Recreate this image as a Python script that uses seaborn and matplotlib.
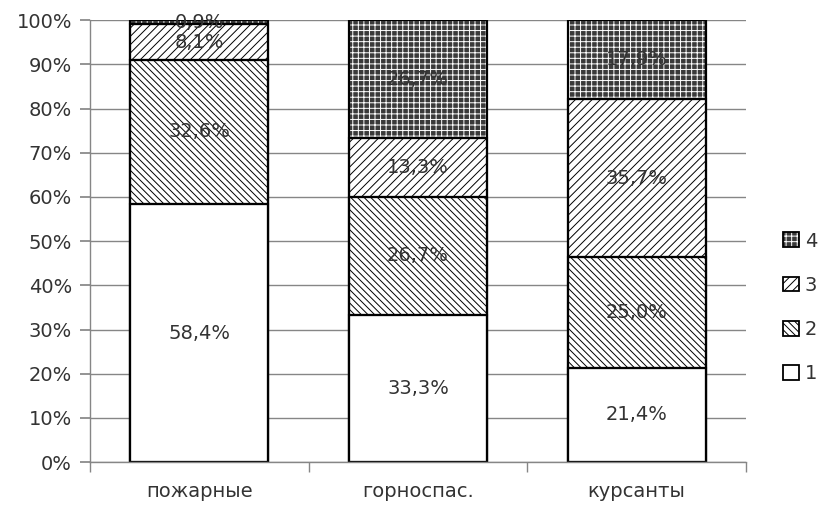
import matplotlib
matplotlib.use("Agg")
import matplotlib.pyplot as plt
import matplotlib.patches as mpatches
import numpy as np
import seaborn as sns

# share of each score (1..4) per group, percent
groups = ["пожарные", "горноспас.", "курсанты"]
score_1 = [58.4, 33.3, 21.4]
score_2 = [32.6, 26.7, 25.0]
score_3 = [8.1, 13.3, 35.7]
score_4 = [0.9, 26.7, 17.9]
layer_names = ["1", "2", "3", "4"]
y_ticks = list(range(0, 101, 10))

sns.set_theme(style="white")
plt.rcParams["font.family"] = ["DejaVu Sans"]
plt.rcParams["hatch.linewidth"] = 0.7

faces = ["white", "white", "white", "#3a3a3a"]
edges = ["black", "black", "black", "white"]
hatches = ["", "\\\\\\\\\\", "////", "+++"]
grid_col = "#868686"
text_col = "#333333"

layers = [score_1, score_2, score_3, score_4]
tops = np.cumsum(layers, axis=0)

fig, ax = plt.subplots(figsize=(8.18, 5.05), dpi=100)
fig.subplots_adjust(left=0.110, right=0.912, bottom=0.085, top=0.960)

# draw cumulative totals from the top layer down so lower layers cover upper ones
for i in range(3, -1, -1):
    sns.barplot(x=groups, y=tops[i], color=faces[i], saturation=1, width=0.63,
                edgecolor=edges[i], linewidth=1.5, hatch=hatches[i],
                errorbar=None, ax=ax)
    for j in range(3):
        if i > 0:
            ax.plot([j - 0.315, j + 0.315], [tops[i - 1][j]] * 2, color="black", lw=1.6, zorder=3)

# black outline around whole columns
sns.barplot(x=groups, y=tops[3], fill=False, color="black", width=0.63,
            linewidth=1.6, errorbar=None, ax=ax)

for i, vals in enumerate(layers):
    bottoms = tops[i] - np.array(vals)
    for j, v in enumerate(vals):
        ax.text(j, bottoms[j] + v / 2, f"{v:.1f}".replace(".", ",") + "%",
                ha="center", va="center", fontsize=14, color=text_col, zorder=5)

ax.set_ylim(0, 100)
ax.set_xlim(-0.5, 2.5)
ax.set_yticks(y_ticks)
ax.set_yticklabels([f"{t}%" for t in y_ticks])
ax.yaxis.grid(True, color=grid_col, linewidth=1)
ax.set_axisbelow(True)
for s in ["top", "right"]:
    ax.spines[s].set_visible(False)
for s in ["left", "bottom"]:
    ax.spines[s].set_color(grid_col)
    ax.spines[s].set_linewidth(1)
ax.tick_params(axis="y", left=True, length=7, color=grid_col, labelsize=14, labelcolor=text_col, pad=6)
ax.tick_params(axis="x", bottom=False, labelsize=14, labelcolor=text_col, pad=8)
ax.set_xticks([-0.5, 0.5, 1.5, 2.5], minor=True)
ax.tick_params(axis="x", which="minor", bottom=True, length=7, color=grid_col)
ax.set_xlabel("")
ax.set_ylabel("")

# legend swatches: hatched fill plus a black outline on top
handles = [(mpatches.Patch(facecolor=faces[i], edgecolor=edges[i], hatch=hatches[i], linewidth=0),
            mpatches.Patch(facecolor="none", edgecolor="black", linewidth=1.3))
           for i in range(3, -1, -1)]
ax.legend(handles, layer_names[::-1], loc="center left", bbox_to_anchor=(1.03, 0.35),
          frameon=False, fontsize=14, handlelength=0.8, handleheight=0.8,
          handletextpad=0.3, labelspacing=1.3, labelcolor=text_col)

fig.savefig("out.png", dpi=100)
